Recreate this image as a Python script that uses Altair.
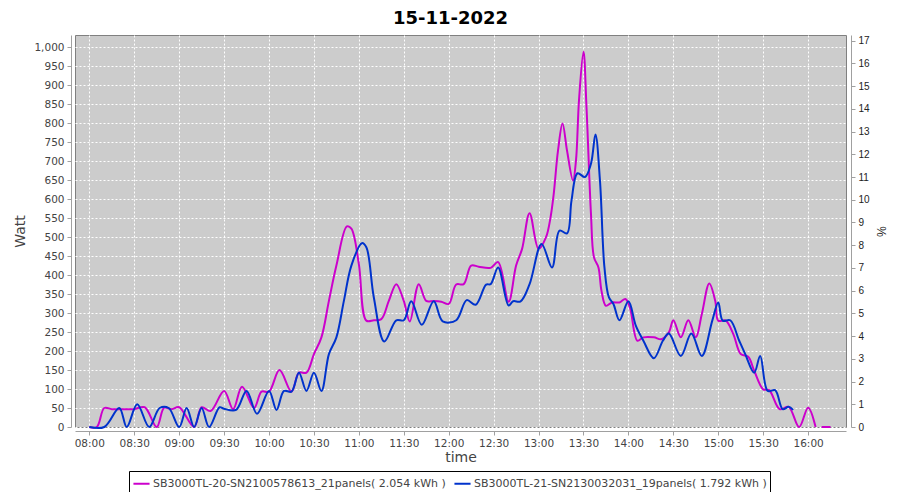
import altair as alt
import pandas as pd

TITLE = "15-11-2022"
S1 = "SB3000TL-20-SN2100578613_21panels( 2.054 kWh )"
S2 = "SB3000TL-21-SN2130032031_19panels( 1.792 kWh )"

mag_t = ["08:00","08:05","08:10","08:15","08:20","08:25","08:30","08:37","08:45","08:50",
         "08:55","09:00","09:10","09:15","09:21","09:30","09:36","09:42","09:50","09:55",
         "10:00","10:07","10:15","10:20","10:25","10:30","10:35","10:40","10:45","10:52",
         "10:55","11:00","11:05","11:10","11:15","11:20","11:25","11:30","11:34","11:40",
         "11:45","11:50","11:55","12:00","12:05","12:10","12:15","12:20","12:28","12:33",
         "12:40","12:45","12:49","12:54","13:00","13:05","13:08","13:10","13:13","13:16",
         "13:19","13:23","13:25","13:27","13:30","13:32","13:35","13:37","13:40","13:42",
         "13:45","13:49","13:54","13:58","14:01","14:06","14:10","14:17","14:22","14:27",
         "14:30","14:35","14:40","14:45","14:49","14:54","14:58","15:00","15:05","15:10",
         "15:15","15:20","15:24","15:30","15:34","15:41","15:47","15:54","16:00","16:05"]
mag_w = [0,0,50,47,47,47,47,52,0,51,
         47,52,0,52,42,95,47,106,50,93,
         93,150,93,143,143,192,236,332,425,528,
         522,429,280,281,284,332,376,332,278,376,
         332,332,330,324,375,376,425,422,419,434,
         330,425,469,563,469,500,552,609,728,799,
         728,649,702,860,988,843,561,447,420,359,
         319,328,328,337,315,227,236,236,231,249,
         281,236,281,236,297,378,332,280,280,245,
         192,185,148,99,97,47,53,0,51,0]
mag_tail_t = ["16:09","16:15"]
mag_tail_w = [0,0]

blu_t = ["08:00","08:10","08:20","08:25","08:32","08:40","08:47","08:53","09:00","09:05",
         "09:10","09:15","09:20","09:27","09:30","09:38","09:45","09:52","10:00","10:05",
         "10:10","10:15","10:20","10:25","10:30","10:35","10:40","10:45","10:50","10:55",
         "11:02","11:05","11:10","11:17","11:25","11:30","11:35","11:42","11:50","11:56",
         "12:05","12:12","12:18","12:25","12:28","12:33","12:40","12:43","12:48","12:54",
         "13:02","13:09","13:14","13:19","13:22","13:26","13:31","13:35","13:38","13:41",
         "13:44","13:47","13:50","13:54","14:00","14:05","14:10","14:17","14:23","14:27",
         "14:35","14:42","14:49","14:56","15:00","15:03","15:08","15:14","15:18","15:24",
         "15:28","15:33","15:38","15:43","15:47","15:50"]
blu_w = [0,0,50,0,60,0,50,50,0,50,
         0,50,0,52,48,45,95,35,95,45,
         95,93,143,95,143,95,192,236,332,425,
         484,473,341,225,281,281,331,269,331,278,
         281,334,322,375,376,420,320,331,331,376,
         482,420,517,510,596,668,658,693,770,649,
         420,341,324,281,331,266,227,181,227,246,
         187,246,187,280,328,280,281,227,192,143,
         187,95,97,47,53,45]

PCT_DOMAIN = [0, 17.25]


def to_min(t):
    h, m = t.split(":")
    return int(h) * 60 + int(m)


rows = []
for t, w in zip(mag_t, mag_w):
    rows.append({"minute": to_min(t), "W": w, "series": S1, "seg": "m1"})
for t, w in zip(mag_tail_t, mag_tail_w):
    rows.append({"minute": to_min(t), "W": w, "series": S1, "seg": "m2"})
for t, w in zip(blu_t, blu_w):
    rows.append({"minute": to_min(t), "W": w, "series": S2, "seg": "b1"})
df = pd.DataFrame(rows)

label_expr = ("(floor(datum.value/60) < 10 ? '0' : '') + floor(datum.value/60) + ':' + "
              "(datum.value % 60 < 10 ? '0' : '') + (datum.value % 60)")

FONT = "DejaVu Sans"
GRAY = "#444444"

lines = alt.Chart(df).mark_line(interpolate="catmull-rom", strokeWidth=2).encode(
    x=alt.X("minute:Q",
            scale=alt.Scale(domain=[470.45, 985.3], nice=False, zero=False),
            axis=alt.Axis(values=list(range(480, 961, 30)), labelExpr=label_expr,
                          title="time", offset=4, grid=True, gridDash=[2, 2],
                          gridColor="#ffffff", gridOpacity=1, domainColor="#a0a0a0",
                          tickColor="#a0a0a0", tickSize=4, labelPadding=3,
                          labelFont=FONT, labelFontSize=10.5, labelColor=GRAY,
                          titleFont=FONT, titleFontSize=14, titleFontWeight="normal",
                          titleColor=GRAY, titlePadding=2)),
    y=alt.Y("W:Q",
            scale=alt.Scale(domain=[0, 1032], nice=False),
            axis=alt.Axis(values=list(range(0, 1001, 50)), format=",d", title="Watt",
                          offset=4, grid=True, gridDash=[2, 2], gridColor="#ffffff",
                          gridOpacity=1, domainColor="#a0a0a0", tickColor="#a0a0a0",
                          tickSize=4, labelPadding=3, labelFont=FONT, labelFontSize=10.5,
                          labelColor=GRAY, titleFont=FONT, titleFontSize=14,
                          titleFontWeight="normal", titleColor=GRAY, titlePadding=6)),
    color=alt.Color("series:N",
                    scale=alt.Scale(domain=[S1, S2], range=["#cc00cc", "#0033cc"]),
                    legend=alt.Legend(title=None, orient="none", legendX=54, legendY=436,
                                      direction="horizontal", symbolType="stroke",
                                      symbolStrokeWidth=2, symbolSize=260,
                                      labelFont=FONT, labelFontSize=11,
                                      labelColor=GRAY, labelLimit=500, strokeColor="#000000",
                                      padding=3, columnPadding=4, labelOffset=2,
                                      fillColor="#ffffff")),
    detail="seg:N",
)

pct_df = pd.DataFrame({"pct": PCT_DOMAIN})
right_axis = alt.Chart(pct_df).mark_point(opacity=0).encode(
    y=alt.Y("pct:Q",
            scale=alt.Scale(domain=PCT_DOMAIN, nice=False),
            axis=alt.Axis(orient="right", values=list(range(0, 18)), title="%",
                          offset=5, grid=False, domainColor="#a0a0a0", tickColor="#a0a0a0",
                          tickSize=4, labelPadding=3, labelFont="Liberation Sans",
                          labelFontSize=10, labelColor="#222222", titleFont="Liberation Sans",
                          titleFontSize=12, titleFontWeight="normal", titleColor="#222222",
                          titlePadding=4)),
)

chart = alt.layer(lines, right_axis).resolve_scale(y="independent").properties(
    width=771, height=392,
    title=alt.TitleParams(TITLE, font=FONT, fontSize=18, fontWeight="bold", color="#000000",
                          anchor="middle", frame="group", dx=-10, offset=4),
    autosize=alt.AutoSizeParams(type="none"),
    padding={"left": 67, "top": 27, "right": 46, "bottom": 65},
).configure_view(fill="#cccccc", stroke="#808080", strokeWidth=1)

chart.save("out.html", embed_options={"renderer": "svg", "actions": False})
